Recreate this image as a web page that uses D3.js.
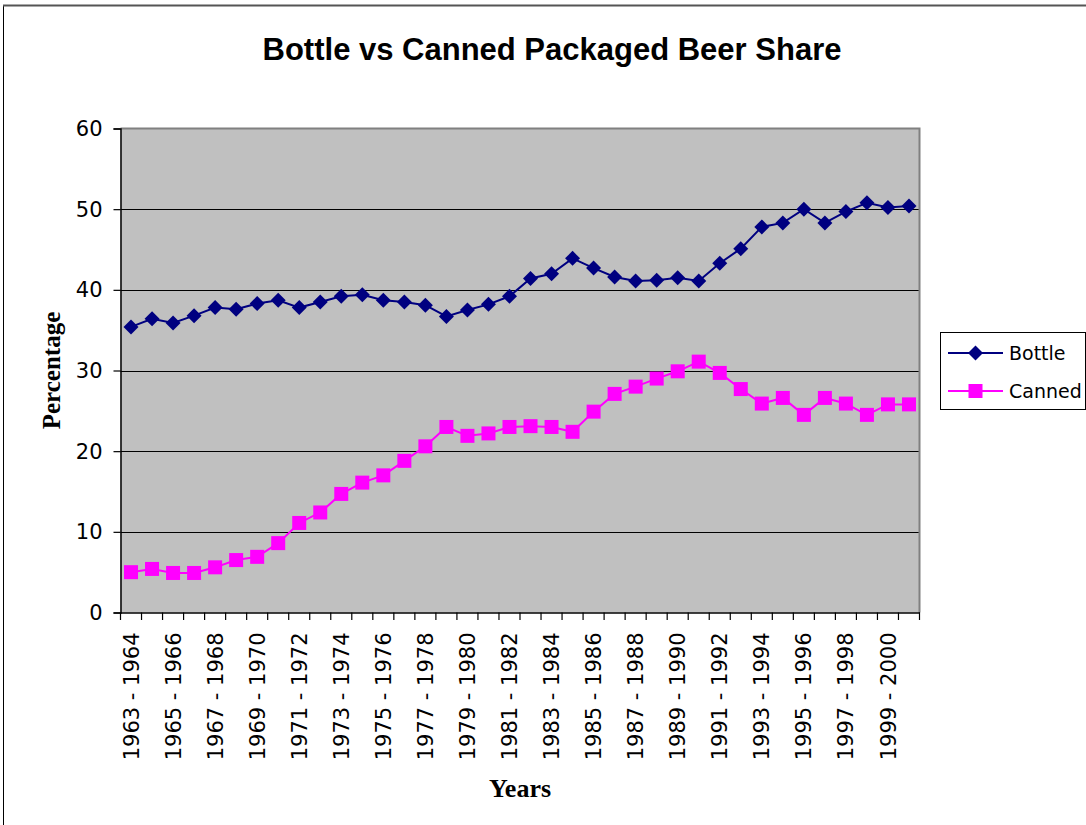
<!DOCTYPE html>
<html>
<head>
<meta charset="utf-8">
<script src="https://cdn.jsdelivr.net/npm/d3@7"></script>
<style>
  html, body { margin: 0; padding: 0; background: #fff; }
  svg { display: block; }
</style>
</head>
<body>
<svg id="chart" width="1086" height="825"></svg>
<script>
const categories = [
  "1963 - 1964","1964 - 1965","1965 - 1966","1966 - 1967","1967 - 1968","1968 - 1969",
  "1969 - 1970","1970 - 1971","1971 - 1972","1972 - 1973","1973 - 1974","1974 - 1975",
  "1975 - 1976","1976 - 1977","1977 - 1978","1978 - 1979","1979 - 1980","1980 - 1981",
  "1981 - 1982","1982 - 1983","1983 - 1984","1984 - 1985","1985 - 1986","1986 - 1987",
  "1987 - 1988","1988 - 1989","1989 - 1990","1990 - 1991","1991 - 1992","1992 - 1993",
  "1993 - 1994","1994 - 1995","1995 - 1996","1996 - 1997","1997 - 1998","1998 - 1999",
  "1999 - 2000","2000 - 2001"
];
const bottle = [
  35.4, 36.4, 35.9, 36.8, 37.8, 37.6, 38.3, 38.7, 37.8, 38.5,
  39.2, 39.4, 38.7, 38.5, 38.1, 36.7, 37.5, 38.2, 39.2, 41.4,
  42.0, 43.9, 42.7, 41.6, 41.1, 41.2, 41.5, 41.1, 43.3, 45.1,
  47.8, 48.3, 50.0, 48.3, 49.7, 50.8, 50.2, 50.4
];
const canned = [
  5.0, 5.4, 4.9, 4.9, 5.6, 6.5, 6.9, 8.6, 11.1, 12.4,
  14.7, 16.1, 17.0, 18.8, 20.6, 23.0, 21.9, 22.2, 23.0, 23.1,
  23.0, 22.4, 24.9, 27.1, 28.0, 29.0, 29.9, 31.1, 29.7, 27.7,
  25.9, 26.6, 24.5, 26.6, 25.9, 24.5, 25.8, 25.8
];
const yTicks = [0, 10, 20, 30, 40, 50, 60];
const xLabelCats = categories.filter((d, i) => i % 2 === 0);
const seriesNames = ["Bottle", "Canned"];
const titleText = "Bottle vs Canned Packaged Beer Share";
const xTitle = "Years";
const yTitle = "Percentage";

const svg = d3.select("#chart");
const L = 120.5, R = 919.5, T = 128.5, B = 612.5;

// outer chart border
svg.append("rect").attr("x", 3.5).attr("y", 5.5).attr("width", 1200).attr("height", 1000)
  .attr("fill", "#fff").attr("stroke", "#000").attr("stroke-width", 1);
svg.append("line").attr("x1", 3).attr("x2", 1086).attr("y1", 5.5).attr("y2", 5.5)
  .attr("stroke", "#555").attr("stroke-width", 2);

const x = d3.scaleBand().domain(categories).range([L, R]).paddingInner(0).paddingOuter(0);
const y = d3.scaleLinear().domain([0, 60]).range([B, T]);
const cx = d => x(d) + x.bandwidth() / 2;

// plot background
svg.append("rect").attr("x", L).attr("y", T).attr("width", R - L).attr("height", B - T)
  .attr("fill", "#C0C0C0");

// gridlines
svg.append("g").selectAll("line").data(yTicks.filter(v => v > 0 && v < 60)).join("line")
  .attr("x1", L).attr("x2", R).attr("y1", d => Math.round(y(d)) + 0.5).attr("y2", d => Math.round(y(d)) + 0.5)
  .attr("stroke", "#000").attr("stroke-width", 1);

// plot border top/right (gray)
svg.append("path").attr("d", `M${L},${T}H${R}V${B}`).attr("fill", "none")
  .attr("stroke", "#808080").attr("stroke-width", 2);

// y axis
const yAxis = svg.append("g").attr("transform", `translate(${L},0)`)
  .call(d3.axisLeft(y).tickValues(yTicks).tickSize(7).tickPadding(11).tickFormat(d3.format("d")));
yAxis.select(".domain").attr("stroke", "#000").attr("stroke-width", 1.5);
yAxis.selectAll(".tick line").attr("stroke", "#000").attr("stroke-width", 1.2);
yAxis.selectAll(".tick text").attr("font-family", "DejaVu Sans, sans-serif").attr("font-size", 21)
  .attr("fill", "#000").attr("dy", "0.34em");

// x axis baseline and ticks at category boundaries
const xAxis = svg.append("g").attr("transform", `translate(0,${B})`)
  .call(d3.axisBottom(x).tickSize(0).tickFormat(""));
xAxis.select(".domain").attr("stroke", "#000").attr("stroke-width", 1.5);
const boundaries = categories.map(d => x(d)).concat([x(categories[categories.length - 1]) + x.bandwidth()]);
svg.append("g").selectAll("line").data(boundaries).join("line")
  .attr("x1", d => d).attr("x2", d => d).attr("y1", B).attr("y2", B + 7.5)
  .attr("stroke", "#000").attr("stroke-width", 1.2);

// x tick labels (rotated)
svg.append("g").selectAll("text").data(xLabelCats).join("text")
  .attr("transform", d => `translate(${cx(d)},${B + 20}) rotate(-90)`)
  .attr("text-anchor", "end").attr("dy", "0.36em")
  .attr("font-family", "DejaVu Sans, sans-serif").attr("font-size", 21).attr("fill", "#000")
  .text(d => d);

// lines
const line = d3.line().x((d, i) => cx(categories[i])).y(d => y(d));
svg.append("path").datum(canned).attr("d", line).attr("fill", "none")
  .attr("stroke", "#FF00FF").attr("stroke-width", 2);
svg.append("path").datum(bottle).attr("d", line).attr("fill", "none")
  .attr("stroke", "#000080").attr("stroke-width", 2);

// markers
const sq = 14, dm = 7.5;
svg.append("g").selectAll("rect").data(canned).join("rect")
  .attr("x", (d, i) => cx(categories[i]) - sq / 2).attr("y", d => y(d) - sq / 2)
  .attr("width", sq).attr("height", sq).attr("fill", "#FF00FF");
svg.append("g").selectAll("path").data(bottle).join("path")
  .attr("d", (d, i) => {
    const px = cx(categories[i]), py = y(d);
    return `M${px},${py - dm}L${px + dm},${py}L${px},${py + dm}L${px - dm},${py}Z`;
  })
  .attr("fill", "#000080");

// title
svg.append("text").attr("x", 552).attr("y", 60).attr("text-anchor", "middle")
  .attr("font-family", "Liberation Sans, Arial, sans-serif").attr("font-weight", "bold")
  .attr("font-size", 31).attr("fill", "#000").text(titleText);

// axis titles
svg.append("text").attr("x", (L + R) / 2).attr("y", 797).attr("text-anchor", "middle")
  .attr("font-family", "Liberation Serif, Times New Roman, serif").attr("font-weight", "bold")
  .attr("font-size", 26).attr("fill", "#000").text(xTitle);
svg.append("text").attr("transform", `translate(60,${(T + B) / 2}) rotate(-90)`)
  .attr("text-anchor", "middle")
  .attr("font-family", "Liberation Serif, Times New Roman, serif").attr("font-weight", "bold")
  .attr("font-size", 25).attr("fill", "#000").text(yTitle);

// legend
const lg = svg.append("g");
lg.append("rect").attr("x", 940.5).attr("y", 332.5).attr("width", 145).attr("height", 77)
  .attr("fill", "#fff").attr("stroke", "#000").attr("stroke-width", 1);
const legendRows = [
  { name: seriesNames[0], color: "#000080", shape: "diamond", y: 353 },
  { name: seriesNames[1], color: "#FF00FF", shape: "square", y: 391 }
];
legendRows.forEach(r => {
  lg.append("line").attr("x1", 948).attr("x2", 1003).attr("y1", r.y).attr("y2", r.y)
    .attr("stroke", r.color).attr("stroke-width", 2);
  if (r.shape === "diamond") {
    lg.append("path").attr("d", `M975.5,${r.y - dm}L${975.5 + dm},${r.y}L975.5,${r.y + dm}L${975.5 - dm},${r.y}Z`)
      .attr("fill", r.color);
  } else {
    lg.append("rect").attr("x", 975.5 - sq / 2).attr("y", r.y - sq / 2).attr("width", sq).attr("height", sq)
      .attr("fill", r.color);
  }
  lg.append("text").attr("x", 1009).attr("y", r.y).attr("dy", "0.35em")
    .attr("font-family", "Comic Sans MS, DejaVu Sans, sans-serif").attr("font-size", 19)
    .attr("fill", "#000").text(r.name);
});
</script>
</body>
</html>
